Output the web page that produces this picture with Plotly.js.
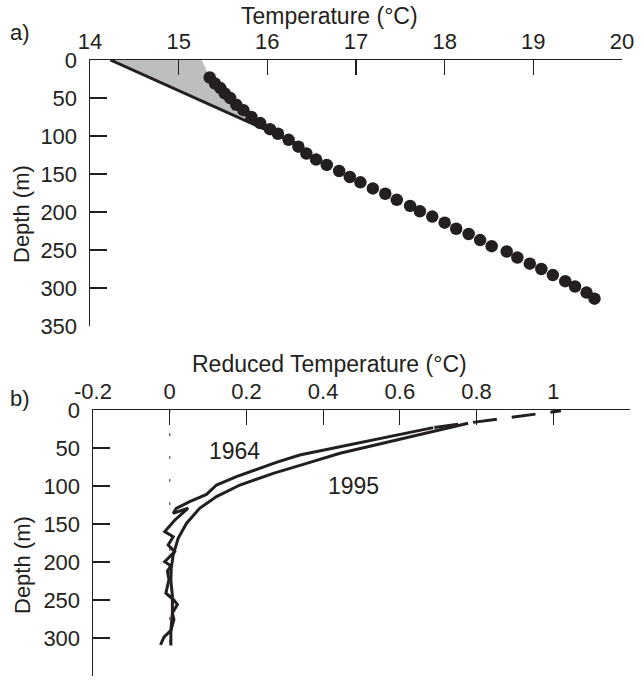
<!DOCTYPE html>
<html><head><meta charset="utf-8">
<script src="https://cdn.plot.ly/plotly-3.0.1.min.js"></script>
<style>html,body{margin:0;padding:0;background:#fff}#chart{width:644px;height:683px}</style>
</head><body><div id="chart"></div>
<script>
// Panel a: measured temperature profile
const dotTemp = [15.35,15.41,15.47,15.52,15.58,15.65,15.73,15.82,15.92,16.03,16.12,16.24,16.35,16.44,16.55,16.67,16.81,16.93,17.05,17.19,17.33,17.46,17.61,17.72,17.86,18.00,18.13,18.27,18.40,18.53,18.70,18.82,18.96,19.09,19.22,19.36,19.47,19.60,19.69];
const dotDepth = [23,31,37,44,50,59,66,75,83,91,97,105,114,123,131,138,146,154,161,169,176,184,192,199,206,214,222,229,237,245,252,260,268,275,283,291,298,306,314];
// extrapolated steady-state gradient line
const gradTemp = [14.23, 16.33];
const gradDepth = [0, 110];
// surface point of the upper curve (edge of shaded area)
const surfTemp = 15.26;
const shadeCount = 12; // dots bounding the shaded area

// Panel b: reduced temperature
const r1964 = [0.687,0.591,0.539,0.470,0.400,0.339,0.278,0.209,0.174,0.122,0.096,0.052,0.017,0.009,0.048,0.013,-0.013,0.009,-0.004,0.013,-0.013,0.003,-0.006,-0.002,-0.01,0.011,0.02,0.007,0.011,0.003,-0.015,-0.024];
const d1964 = [23.2,32.9,38.6,45.2,52.6,59.2,68.9,81.1,87.7,98.7,111,120.6,129.4,136,129,145,160,166.7,177.6,186.4,199.6,205,212,223,241,250,256,267,276,290,299,309];
const r1995 = [0.778,0.704,0.617,0.530,0.444,0.357,0.270,0.183,0.122,0.078,0.044,0.022,0.009,0.004,0.003,0.007,0.007,0.003,0.003];
const d1995 = [17.5,26.3,36,46,57,70.2,83.3,98.7,114,129.4,149,168.8,190.8,208,225,245,267,290,310];
const dashR = [0.69, 1.02];
const dashD = [23, 1];
const zeroR = [0, 0];
const zeroD = [0, 310];

const xTicksA = [14,15,16,17,18,19,20];
const xTicksB = [-0.2,0,0.2,0.4,0.6,0.8,1,1.2];
const xTickTextB = ["-0.2","0","0.2","0.4","0.6","0.8","1","1.2"];
const yTicks = [0,50,100,150,200,250,300,350];

const ink = '#231f20';
const FONT = 'Liberation Sans, Arial, Helvetica, sans-serif';

const shadeX = [gradTemp[0], surfTemp].concat(dotTemp.slice(0, shadeCount)).concat([gradTemp[1]]);
const shadeY = [gradDepth[0], 0].concat(dotDepth.slice(0, shadeCount)).concat([gradDepth[1]]);

const traces = [
  {x: shadeX, y: shadeY, xaxis:'x', yaxis:'y', mode:'none', fill:'toself', fillcolor:'#bcbec0', hoverinfo:'skip', showlegend:false},
  {x: gradTemp, y: gradDepth, xaxis:'x', yaxis:'y', mode:'lines', line:{color:ink, width:3}, showlegend:false},
  {x: dotTemp, y: dotDepth, xaxis:'x', yaxis:'y', mode:'markers', marker:{color:ink, size:12.5}, showlegend:false},
  {x: zeroR, y: zeroD, xaxis:'x2', yaxis:'y2', mode:'lines', line:{color:'#666', width:1.3, dash:'3px,20px'}, showlegend:false},
  {x: r1964, y: d1964, xaxis:'x2', yaxis:'y2', mode:'lines', line:{color:ink, width:3}, showlegend:false},
  {x: r1995, y: d1995, xaxis:'x2', yaxis:'y2', mode:'lines', line:{color:ink, width:3}, showlegend:false},
  {x: dashR, y: dashD, xaxis:'x2', yaxis:'y2', mode:'lines', line:{color:ink, width:3, dash:'24px,15px'}, showlegend:false}
];

const axBase = {
  showgrid:false, zeroline:false, showline:true, linecolor:ink, linewidth:1.5,
  ticks:'inside', tickcolor:ink, tickwidth:1.2,
  tickfont:{family:FONT, size:22, color:ink}
};

function ann(text, x, y, size, extra) {
  return Object.assign({text:text, xref:'paper', yref:'paper', x:x/644, y:1-y/683,
    xanchor:'center', yanchor:'middle', showarrow:false, font:{family:FONT, size:size, color:ink}}, extra || {});
}

const layout = {
  width:644, height:683,
  margin:{l:0, r:0, t:0, b:0},
  paper_bgcolor:'#fff', plot_bgcolor:'#fff',
  showlegend:false,
  xaxis: Object.assign({}, axBase, {domain:[90/644, 622/644], range:[14,20], side:'top', anchor:'y',
    tickvals:xTicksA, ticklen:15, ticklabelstandoff:1}),
  yaxis: Object.assign({}, axBase, {domain:[1-326/683, 1-60/683], range:[350,0], anchor:'x',
    tickvals:yTicks, ticklen:17, ticklabelstandoff:7}),
  xaxis2: Object.assign({}, axBase, {domain:[93/644, 630/644], range:[-0.2,1.2], side:'top', anchor:'y2',
    tickvals:xTicksB, ticktext:xTickTextB, ticklen:15, ticklabelstandoff:1}),
  yaxis2: Object.assign({}, axBase, {domain:[1-676/683, 1-410/683], range:[350,0], anchor:'x2',
    tickvals:yTicks, ticklen:17, ticklabelstandoff:7}),
  annotations: [
    ann('Temperature (°C)', 329, 16, 23),
    ann('a)', 20, 32, 22),
    ann('Depth (m)', 22, 214, 22, {textangle:-90}),
    ann('Reduced Temperature (°C)', 329, 364, 23),
    ann('b)', 20, 398, 22),
    ann('Depth (m)', 22, 565, 22, {textangle:-90}),
    {text:'1964', xref:'x2', yref:'y2', x:0.17, y:53.5, xanchor:'center', yanchor:'middle', showarrow:false, font:{family:FONT, size:23, color:ink}},
    {text:'1995', xref:'x2', yref:'y2', x:0.478, y:99.6, xanchor:'center', yanchor:'middle', showarrow:false, font:{family:FONT, size:23, color:ink}}
  ]
};

Plotly.newPlot('chart', traces, layout, {staticPlot:true, displayModeBar:false});
</script>
</body></html>
